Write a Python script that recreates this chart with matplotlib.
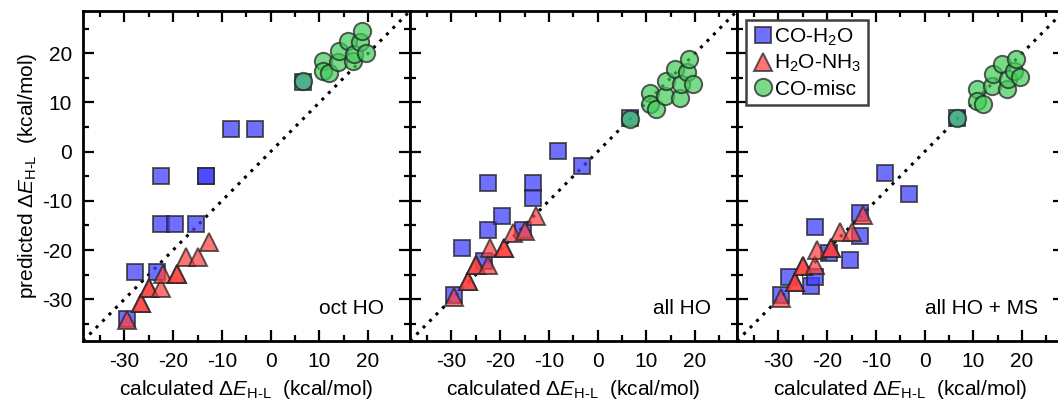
import matplotlib
matplotlib.use("Agg")
import matplotlib.pyplot as plt
from matplotlib.ticker import MultipleLocator

plt.rcParams['font.family'] = ['Liberation Sans', 'DejaVu Sans']
plt.rcParams['mathtext.fontset'] = 'custom'
plt.rcParams['mathtext.rm'] = 'Liberation Sans'
plt.rcParams['mathtext.it'] = 'Liberation Sans:italic'
plt.rcParams['mathtext.default'] = 'rm'
plt.rcParams['axes.unicode_minus'] = False

# ---- data ----
panel_names = ["oct HO", "all HO", "all HO + MS"]

sq_calc = [-29.5, -27.8, -23.3, -22.4, -22.4, -19.7, -15.4, -13.3, -13.2, -8.1, -3.2, 6.7]
sq_pred_oct = [-34.0, -24.4, -24.4, -5.0, -14.7, -14.7, -14.7, -5.0, -5.0, 4.7, 4.7, 14.2]
sq_pred_all = [-29.1, -19.6, -22.3, -6.3, -15.9, -13.1, -15.9, -6.3, -9.5, 0.1, -2.9, 6.9]
sq_pred_ms = [-29.1, -25.4, -27.4, -15.4, -25.4, -20.6, -22.0, -12.4, -17.1, -4.3, -8.7, 6.9]

tr_calc = [-29.5, -26.5, -26.5, -25.0, -25.0, -22.4, -22.0, -19.2, -19.2, -17.4, -15.0, -12.6]
tr_pred_oct = [-34.2, -30.8, -30.8, -27.8, -27.8, -27.8, -24.8, -24.8, -24.8, -21.4, -21.4, -18.4]
tr_pred_all = [-29.5, -26.4, -26.4, -23.0, -23.0, -23.0, -19.6, -19.6, -19.6, -16.5, -16.2, -13.0]
tr_pred_ms = [-29.7, -26.6, -26.6, -23.3, -23.3, -23.0, -19.9, -19.6, -19.6, -16.3, -16.3, -12.8]

ci_calc = [6.7, 10.8, 10.8, 11.9, 13.9, 14.0, 15.8, 17.0, 17.1, 18.4, 18.7, 19.6]
ci_pred_oct = [14.4, 18.5, 16.4, 15.9, 18.2, 20.4, 22.6, 18.5, 19.9, 22.2, 24.5, 20.0]
ci_pred_all = [6.7, 12.0, 9.7, 8.6, 11.3, 14.4, 16.8, 11.0, 13.7, 16.1, 18.8, 13.7]
ci_pred_ms = [6.9, 12.7, 10.3, 9.7, 13.4, 15.8, 17.8, 12.7, 14.8, 16.5, 18.8, 15.1]

sq_preds = [sq_pred_oct, sq_pred_all, sq_pred_ms]
tr_preds = [tr_pred_oct, tr_pred_all, tr_pred_ms]
ci_preds = [ci_pred_oct, ci_pred_all, ci_pred_ms]

ticks = [-30, -20, -10, 0, 10, 20]
lims = (-38.5, 28.6)

series_labels = [r"CO-H$_2$O", r"H$_2$O-NH$_3$", "CO-misc"]

# ---- figure ----
fig = plt.figure(figsize=(10.58, 4.0), dpi=100)
W, H = 1058.0, 400.0
lefts = [83, 410, 737]
aw, ah = 327, 330
bottom = 400 - 341
FS = 15

xlabel = r"calculated $\Delta\mathit{E}_{\mathrm{H}\text{-}\mathrm{L}}$  (kcal/mol)"
ylabel = r"predicted $\Delta\mathit{E}_{\mathrm{H}\text{-}\mathrm{L}}$  (kcal/mol)"

blue_face = (0.25, 0.25, 1.0, 0.75)
red_face = (1.0, 0.25, 0.25, 0.72)
green_face = (0.25, 0.80, 0.35, 0.70)
edge = (0.15, 0.15, 0.15, 0.75)

for i in range(3):
    ax = fig.add_axes([lefts[i] / W, bottom / H, aw / W, ah / H])
    ax.plot(lims, lims, linestyle=(0, (1, 2.0)), color='black', lw=2.2, zorder=1)
    ax.plot(sq_calc, sq_preds[i], 's', ms=12, mfc=blue_face, mec=edge, mew=1.4,
            linestyle='none', zorder=2, label=series_labels[0])
    ax.plot(tr_calc, tr_preds[i], '^', ms=13, mfc=red_face, mec=edge, mew=1.4,
            linestyle='none', zorder=3, label=series_labels[1])
    ax.plot(ci_calc, ci_preds[i], 'o', ms=12.5, mfc=green_face, mec=edge, mew=1.4,
            linestyle='none', zorder=4, label=series_labels[2])
    ax.set_xlim(lims)
    ax.set_ylim(lims)
    ax.set_xticks(ticks)
    ax.set_yticks(ticks)
    ax.xaxis.set_minor_locator(MultipleLocator(5))
    ax.yaxis.set_minor_locator(MultipleLocator(5))
    ax.tick_params(which='both', direction='in', top=True, right=True, width=1.6)
    ax.tick_params(which='major', length=8, labelsize=FS, pad=8)
    ax.tick_params(which='minor', length=4)
    for sp in ax.spines.values():
        sp.set_linewidth(2.0)
    if i > 0:
        ax.tick_params(labelleft=False)
    else:
        ax.set_ylabel(ylabel, fontsize=FS, labelpad=2)
    ax.set_xlabel(xlabel, fontsize=FS, labelpad=5)
    ax.text(0.92, 0.10, panel_names[i], transform=ax.transAxes, ha='right',
            va='center', fontsize=FS)
    if i == 2:
        leg = ax.legend(loc='upper left', fontsize=FS, handletextpad=0.05,
                        handlelength=1.0, borderpad=0.3, labelspacing=0.25,
                        borderaxespad=0.45, fancybox=False, framealpha=1)
        leg.get_frame().set_edgecolor((0.25, 0.25, 0.25))
        leg.get_frame().set_linewidth(1.8)

fig.savefig("out.png", dpi=100)
